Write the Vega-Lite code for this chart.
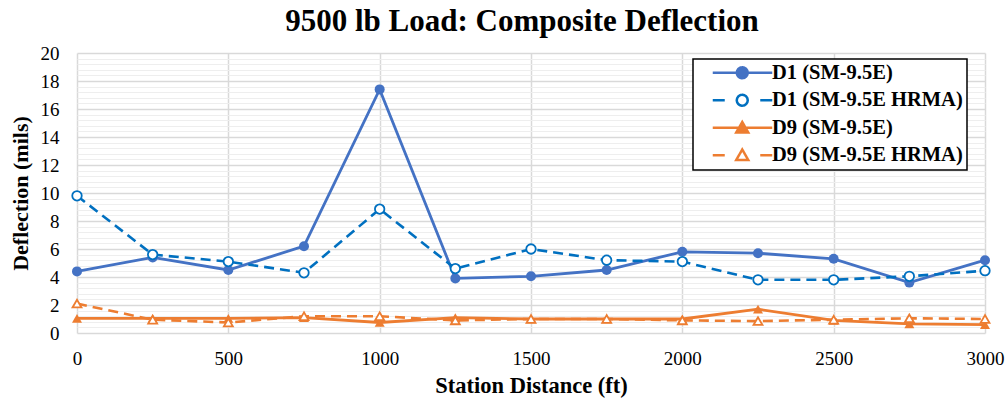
{
  "$schema": "https://vega.github.io/schema/vega-lite/v6.json",
  "width": 908,
  "height": 280,
  "autosize": {"type": "none"},
  "padding": {"left": 77, "top": 53, "right": 20, "bottom": 67},
  "background": "white",
  "config": {"view": {"stroke": null}, "font": "'Liberation Serif', 'Times New Roman', 'DejaVu Serif', serif"},
  "title": {"text": "9500 lb Load: Composite Deflection", "font": "'Liberation Serif', 'Times New Roman', 'DejaVu Serif', serif", "fontSize": 31, "fontWeight": "bold", "color": "#000000", "anchor": "middle", "offset": 6, "dx": -9},
  "data": {"values": [
    {"station": 0, "series": "D1 (SM-9.5E)", "value": 4.4},
    {"station": 250, "series": "D1 (SM-9.5E)", "value": 5.4},
    {"station": 500, "series": "D1 (SM-9.5E)", "value": 4.5},
    {"station": 750, "series": "D1 (SM-9.5E)", "value": 6.2},
    {"station": 1000, "series": "D1 (SM-9.5E)", "value": 17.4},
    {"station": 1250, "series": "D1 (SM-9.5E)", "value": 3.9},
    {"station": 1500, "series": "D1 (SM-9.5E)", "value": 4.05},
    {"station": 1750, "series": "D1 (SM-9.5E)", "value": 4.5},
    {"station": 2000, "series": "D1 (SM-9.5E)", "value": 5.8},
    {"station": 2250, "series": "D1 (SM-9.5E)", "value": 5.7},
    {"station": 2500, "series": "D1 (SM-9.5E)", "value": 5.3},
    {"station": 2750, "series": "D1 (SM-9.5E)", "value": 3.6},
    {"station": 3000, "series": "D1 (SM-9.5E)", "value": 5.2},
    {"station": 0, "series": "D1 (SM-9.5E HRMA)", "value": 9.8},
    {"station": 250, "series": "D1 (SM-9.5E HRMA)", "value": 5.6},
    {"station": 500, "series": "D1 (SM-9.5E HRMA)", "value": 5.1},
    {"station": 750, "series": "D1 (SM-9.5E HRMA)", "value": 4.3},
    {"station": 1000, "series": "D1 (SM-9.5E HRMA)", "value": 8.85},
    {"station": 1250, "series": "D1 (SM-9.5E HRMA)", "value": 4.6},
    {"station": 1500, "series": "D1 (SM-9.5E HRMA)", "value": 6.0},
    {"station": 1750, "series": "D1 (SM-9.5E HRMA)", "value": 5.2},
    {"station": 2000, "series": "D1 (SM-9.5E HRMA)", "value": 5.1},
    {"station": 2250, "series": "D1 (SM-9.5E HRMA)", "value": 3.8},
    {"station": 2500, "series": "D1 (SM-9.5E HRMA)", "value": 3.8},
    {"station": 2750, "series": "D1 (SM-9.5E HRMA)", "value": 4.05},
    {"station": 3000, "series": "D1 (SM-9.5E HRMA)", "value": 4.45},
    {"station": 0, "series": "D9 (SM-9.5E)", "value": 1.05},
    {"station": 250, "series": "D9 (SM-9.5E)", "value": 1.05},
    {"station": 500, "series": "D9 (SM-9.5E)", "value": 1.05},
    {"station": 750, "series": "D9 (SM-9.5E)", "value": 1.1},
    {"station": 1000, "series": "D9 (SM-9.5E)", "value": 0.75},
    {"station": 1250, "series": "D9 (SM-9.5E)", "value": 1.1},
    {"station": 1500, "series": "D9 (SM-9.5E)", "value": 1.0},
    {"station": 1750, "series": "D9 (SM-9.5E)", "value": 1.0},
    {"station": 2000, "series": "D9 (SM-9.5E)", "value": 1.0},
    {"station": 2250, "series": "D9 (SM-9.5E)", "value": 1.7},
    {"station": 2500, "series": "D9 (SM-9.5E)", "value": 0.9},
    {"station": 2750, "series": "D9 (SM-9.5E)", "value": 0.65},
    {"station": 3000, "series": "D9 (SM-9.5E)", "value": 0.6},
    {"station": 0, "series": "D9 (SM-9.5E HRMA)", "value": 2.1},
    {"station": 250, "series": "D9 (SM-9.5E HRMA)", "value": 0.95},
    {"station": 500, "series": "D9 (SM-9.5E HRMA)", "value": 0.75},
    {"station": 750, "series": "D9 (SM-9.5E HRMA)", "value": 1.2},
    {"station": 1000, "series": "D9 (SM-9.5E HRMA)", "value": 1.2},
    {"station": 1250, "series": "D9 (SM-9.5E HRMA)", "value": 0.9},
    {"station": 1500, "series": "D9 (SM-9.5E HRMA)", "value": 1.0},
    {"station": 1750, "series": "D9 (SM-9.5E HRMA)", "value": 1.0},
    {"station": 2000, "series": "D9 (SM-9.5E HRMA)", "value": 0.9},
    {"station": 2250, "series": "D9 (SM-9.5E HRMA)", "value": 0.85},
    {"station": 2500, "series": "D9 (SM-9.5E HRMA)", "value": 0.95},
    {"station": 2750, "series": "D9 (SM-9.5E HRMA)", "value": 1.05},
    {"station": 3000, "series": "D9 (SM-9.5E HRMA)", "value": 1.0}
  ]},
  "encoding": {
    "x": {"field": "station", "type": "quantitative",
      "scale": {"domain": [0, 3000], "nice": false, "zero": false},
      "axis": {"title": "Station Distance (ft)", "values": [0, 500, 1000, 1500, 2000, 2500, 3000], "format": "d",
        "grid": true, "gridColor": "#d9d9d9", "gridWidth": 1.5, "domain": false, "ticks": false,
        "labelFont": "'Liberation Serif', 'Times New Roman', serif", "labelFontSize": 19, "labelColor": "#000000", "labelPadding": 16, "labelFlush": false,
        "titleFont": "'Liberation Serif', 'Times New Roman', serif", "titleFontSize": 22.5, "titleFontWeight": "bold", "titleColor": "#000000", "titlePadding": 6}},
    "y": {"field": "value", "type": "quantitative",
      "scale": {"domain": [0, 20], "nice": false},
      "axis": {"title": "Deflection (mils)",
        "values": [0, 0.4, 0.8, 1.2, 1.6, 2, 2.4, 2.8, 3.2, 3.6, 4, 4.4, 4.8, 5.2, 5.6, 6, 6.4, 6.8, 7.2, 7.6, 8, 8.4, 8.8, 9.2, 9.6, 10, 10.4, 10.8, 11.2, 11.6, 12, 12.4, 12.8, 13.2, 13.6, 14, 14.4, 14.8, 15.2, 15.6, 16, 16.4, 16.8, 17.2, 17.6, 18, 18.4, 18.8, 19.2, 19.6, 20],
        "labelExpr": "datum.value % 2 === 0 ? format(datum.value, 'd') : ''",
        "grid": true,
        "gridColor": {"condition": {"test": "datum.value % 2 === 0", "value": "#d9d9d9"}, "value": "#eeeeee"},
        "gridWidth": {"condition": {"test": "datum.value % 2 === 0", "value": 1.5}, "value": 1},
        "domain": false, "ticks": false, "labelOverlap": false, "labelFlush": false,
        "labelFont": "'Liberation Serif', 'Times New Roman', serif", "labelFontSize": 19, "labelColor": "#000000", "labelPadding": 18,
        "titleFont": "'Liberation Serif', 'Times New Roman', serif", "titleFontSize": 22, "titleFontWeight": "bold", "titleColor": "#000000", "titlePadding": 8}}
  },
  "layer": [
    {
      "transform": [{"filter": "datum.series === 'D1 (SM-9.5E)' || datum.series === 'D9 (SM-9.5E)'"}],
      "mark": {"type": "line", "strokeWidth": 2.8},
      "encoding": {
        "color": {"field": "series", "type": "nominal",
          "scale": {"domain": ["D1 (SM-9.5E)", "D1 (SM-9.5E HRMA)", "D9 (SM-9.5E)", "D9 (SM-9.5E HRMA)"],
                    "range": ["#4472C4", "#0070C0", "#ED7D31", "#ED7D31"]},
          "legend": {"title": null, "orient": "none", "legendX": 616, "legendY": 6,
            "padding": 3.5, "strokeColor": "#000000", "fillColor": "#ffffff",
            "labelFont": "'Liberation Serif', 'Times New Roman', serif", "labelFontSize": 20.5, "labelFontWeight": "bold", "labelColor": "#000000",
            "labelOffset": 55, "rowPadding": 5.5, "symbolSize": 100, "symbolStrokeWidth": 2.5, "labelLimit": 400,
            "encode": {
              "legend": {"update": {"strokeWidth": {"value": 1.5}}},
              "symbols": {"update": {
                "shape": {"signal": "datum.value === 'D1 (SM-9.5E)' ? 'M1.2,0L6,0M8.2,0L13.1,0M8.2,0L8.116,0.421L7.878,0.778L7.521,1.016L7.1,1.1L6.679,1.016L6.322,0.778L6.084,0.421L6,0L6.084,-0.421L6.322,-0.778L6.679,-1.016L7.1,-1.1L7.521,-1.016L7.878,-0.778L8.116,-0.421Z' : datum.value === 'D1 (SM-9.5E HRMA)' ? 'M1.2,0L3.6,0M10.7,0L13.1,0M8.2,0L8.116,0.421L7.878,0.778L7.521,1.016L7.1,1.1L6.679,1.016L6.322,0.778L6.084,0.421L6,0L6.084,-0.421L6.322,-0.778L6.679,-1.016L7.1,-1.1L7.521,-1.016L7.878,-0.778L8.116,-0.421Z' : datum.value === 'D9 (SM-9.5E)' ? 'M1.2,0L13.1,0M7.1,-1.15L8.3,0.95L5.9,0.95Z' : 'M1.2,0L3.6,0M10.7,0L13.1,0M7.1,-1.15L8.3,0.95L5.9,0.95Z'"},
                "fill": {"signal": "datum.value === 'D1 (SM-9.5E)' ? '#4472C4' : datum.value === 'D9 (SM-9.5E)' ? '#ED7D31' : '#ffffff'"},
                "fillOpacity": {"value": 1},
                "strokeDash": {"value": [1, 0]}
              }}
            }}}
      }
    },
    {
      "transform": [{"filter": "datum.series === 'D1 (SM-9.5E HRMA)' || datum.series === 'D9 (SM-9.5E HRMA)'"}],
      "mark": {"type": "line", "strokeWidth": 2.6, "strokeDash": [10, 6]},
      "encoding": {
        "color": {"field": "series", "type": "nominal"}
      }
    },
    {
      "transform": [{"filter": "datum.series === 'D1 (SM-9.5E)'"}],
      "mark": {"type": "point", "shape": "circle", "filled": true, "color": "#4472C4", "size": 100, "opacity": 1}
    },
    {
      "transform": [{"filter": "datum.series === 'D1 (SM-9.5E HRMA)'"}],
      "mark": {"type": "point", "shape": "circle", "filled": true, "fill": "#ffffff", "stroke": "#0070C0", "strokeWidth": 1.8, "size": 90, "opacity": 1}
    },
    {
      "transform": [{"filter": "datum.series === 'D9 (SM-9.5E)'"}],
      "mark": {"type": "point", "shape": "triangle-up", "filled": true, "color": "#ED7D31", "size": 100, "opacity": 1}
    },
    {
      "transform": [{"filter": "datum.series === 'D9 (SM-9.5E HRMA)'"}],
      "mark": {"type": "point", "shape": "triangle-up", "filled": true, "fill": "#ffffff", "stroke": "#ED7D31", "strokeWidth": 1.8, "size": 80, "opacity": 1}
    }
  ]
}
